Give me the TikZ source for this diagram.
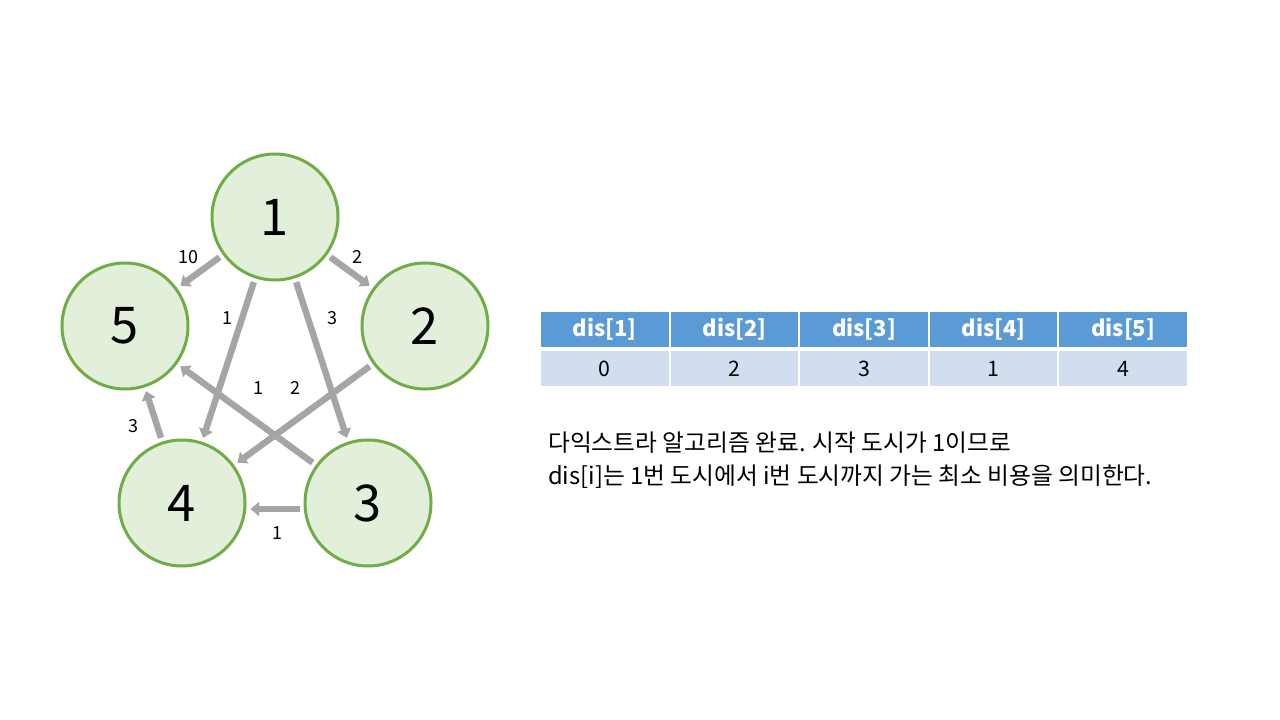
\documentclass[tikz,border=0pt]{standalone}
\usepackage{fontspec}
\setmainfont{Noto Sans CJK KR}
\usetikzlibrary{arrows.meta}
\definecolor{gstroke}{HTML}{70AD47}
\definecolor{gfill}{HTML}{E2EFDA}
\definecolor{egray}{HTML}{A5A5A5}
\definecolor{hblue}{HTML}{5B9BD5}
\definecolor{dblue}{HTML}{D2DEEF}
\begin{document}
\begin{tikzpicture}[x=0.75pt,y=-0.75pt,
  vert/.style={circle,draw=gstroke,fill=gfill,line width=2.25pt,minimum size=94.5pt,inner sep=0pt,font=\fontsize{38}{44}\selectfont},
  edge/.style={draw=egray,line width=4.8pt,-{Triangle[length=6.5pt,width=10.5pt]},shorten <=3pt,shorten >=3pt},
  elab/.style={font=\fontsize{13.5}{15}\selectfont,inner sep=0pt},
  hcell/.style={rectangle,fill=hblue,draw=white,line width=1.5pt,minimum width=97.2pt,minimum height=27.75pt,inner sep=0pt,text=white,font=\fontsize{16.5}{19}\selectfont\bfseries},
  dcell/.style={rectangle,fill=dblue,draw=white,line width=1.5pt,minimum width=97.2pt,minimum height=27.75pt,inner sep=0pt,font=\fontsize{16}{19}\selectfont}
]
\useasboundingbox[fill=white] (0,0) rectangle (1280,720);
\node[vert] (n1) at (275,217) {1};
\node[vert] (n2) at (425,326) {2};
\node[vert] (n3) at (368,503) {3};
\node[vert] (n4) at (182,503) {4};
\node[vert] (n5) at (125,326) {5};
\draw[edge] (n1) -- (n5);
\draw[edge] (n1) -- (n2);
\draw[edge] (n1) -- (n4);
\draw[edge] (n1) -- (n3);
\draw[edge] (n3) -- (n5);
\draw[edge] (n2) -- (n4);
\draw[edge] (n4) -- (n5);
\draw[edge] (n3.west |- 0,509) -- (n4.east |- 0,509);
\node[elab] (l15) at (188,257) {10};
\node[elab] (l12) at (357,257) {2};
\node[elab] (l14) at (227,318) {1};
\node[elab] (l13) at (332,318) {3};
\node[elab] (l35) at (258,388) {1};
\node[elab] (l24) at (295,388) {2};
\node[elab] (l45) at (133,426) {3};
\node[elab] (l34) at (277,533) {1};
\node[hcell] (h1) at (604.8,329.5) {dis[1]};
\node[hcell] (h2) at (734.4,329.5) {dis[2]};
\node[hcell] (h3) at (864,329.5) {dis[3]};
\node[hcell] (h4) at (993.6,329.5) {dis[4]};
\node[hcell] (h5) at (1123.2,329.5) {dis[5]};
\node[dcell] (d1) at (604.8,368.5) {0};
\node[dcell] (d2) at (734.4,368.5) {2};
\node[dcell] (d3) at (864,368.5) {3};
\node[dcell] (d4) at (993.6,368.5) {1};
\node[dcell] (d5) at (1123.2,368.5) {4};
\node[anchor=west,align=left,inner sep=0pt,font=\fontsize{17.8}{24.75}\selectfont] (txt) at (548,460.5) {다익스트라 알고리즘 완료. 시작 도시가 1이므로\\dis[i]는 1번 도시에서 i번 도시까지 가는 최소 비용을 의미한다.};
\end{tikzpicture}
\end{document}
